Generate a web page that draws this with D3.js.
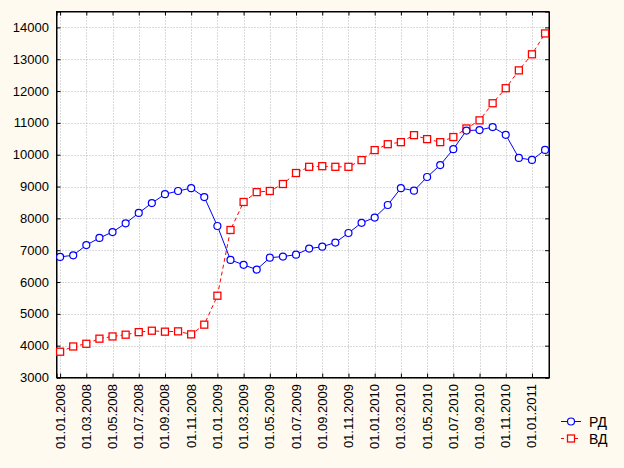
<!DOCTYPE html>
<html><head><meta charset="utf-8">
<script src="https://cdn.jsdelivr.net/npm/d3@7"></script>
<style>
html,body{margin:0;padding:0;background:#FFFAF0;}
svg{display:block;}
text{font-family:"Liberation Sans",Arial,sans-serif;font-size:13px;fill:#000;}
</style></head>
<body>
<svg id="c" width="624" height="468"></svg>
<script>
const months = d3.range(38); // 01.01.2008 .. 01.02.2011
const tickLabels = ["01.01.2008","01.03.2008","01.05.2008","01.07.2008","01.09.2008","01.11.2008",
 "01.01.2009","01.03.2009","01.05.2009","01.07.2009","01.09.2009","01.11.2009",
 "01.01.2010","01.03.2010","01.05.2010","01.07.2010","01.09.2010","01.11.2010","01.01.2011"];
const seriesNames = ["РД","ВД"];
const rd = [6790,6840,7160,7385,7570,7845,8170,8480,8760,8860,8950,8670,7760,6695,6540,6390,6765,6800,6860,7050,
 7110,7240,7540,7860,8025,8420,8950,8870,9300,9675,10175,10760,10775,10870,10625,9900,9835,10150];
const vd = [3810,3975,4060,4220,4290,4345,4425,4470,4440,4450,4355,4660,5570,7635,8515,8825,8860,9080,9425,9620,
 9640,9620,9620,9830,10145,10330,10395,10615,10490,10395,10555,10825,11080,11617,12090,12650,13155,13810];
const yTicks = d3.range(3000,14001,1000);

(function(){
const L=56.5,R=549,T=11.5,B=377.5;
const svg=d3.select("#c");
const x=d3.scaleLinear().domain([-0.275,37.3]).range([L,R]);
const y=d3.scaleLinear().domain([3000,14500]).range([B,T]);
const tickIdx = tickLabels.map((d,i)=>i*2);

svg.append("rect").attr("x",L).attr("y",T).attr("width",R-L).attr("height",B-T).attr("fill","#fff");
const g=svg.append("g");
g.selectAll(".vg").data(tickIdx).join("line").attr("x1",d=>Math.round(x(d))+0.5).attr("x2",d=>Math.round(x(d))+0.5)
 .attr("y1",T).attr("y2",B).attr("stroke","#b4b4b4").attr("stroke-dasharray","1,2");
g.selectAll(".hg").data(yTicks).join("line").attr("y1",d=>Math.round(y(d))+0.5).attr("y2",d=>Math.round(y(d))+0.5)
 .attr("x1",L).attr("x2",R).attr("stroke","#b4b4b4").attr("stroke-dasharray","1,2");

const ax=svg.append("g");
const axB=d3.axisBottom(x).tickValues(tickIdx).tickSize(-4).tickFormat("");
const axT=d3.axisTop(x).tickValues(tickIdx).tickSize(-4).tickFormat("");
const axL=d3.axisLeft(y).tickValues(yTicks).tickSize(-4).tickFormat("");
const axR=d3.axisRight(y).tickValues(yTicks).tickSize(-4).tickFormat("");
ax.append("g").attr("transform",`translate(0,${B})`).call(axB);
ax.append("g").attr("transform",`translate(0,${T})`).call(axT);
ax.append("g").attr("transform",`translate(${L},0)`).call(axL);
ax.append("g").attr("transform",`translate(${R},0)`).call(axR);
ax.selectAll(".domain").attr("stroke","#000").attr("stroke-width",1);
ax.selectAll(".tick line").attr("stroke","#000");
svg.append("rect").attr("x",L).attr("y",T).attr("width",R-L).attr("height",B-T).attr("fill","none").attr("stroke","#000");

svg.selectAll(".yl").data(yTicks).join("text").attr("x",49).attr("y",d=>y(d)+4.5)
 .attr("text-anchor","end").text(d=>d);
svg.selectAll(".xl").data(tickLabels).join("text")
 .attr("transform",(d,i)=>`translate(${x(i*2)+4.5},384) rotate(-90)`)
 .attr("text-anchor","end").text(d=>d);

const line=d3.line().x((d,i)=>x(months[i])).y(d=>y(d));
const pg=svg.append("g");
pg.append("path").datum(vd).attr("d",line).attr("fill","none").attr("stroke","#f00").attr("stroke-dasharray","4,3");
pg.append("path").datum(rd).attr("d",line).attr("fill","none").attr("stroke","#00f");
pg.selectAll(".sq").data(vd).join("rect").attr("x",(d,i)=>x(months[i])-3.5).attr("y",d=>y(d)-3.5)
 .attr("width",7).attr("height",7).attr("fill","#fff").attr("stroke","#f00").attr("stroke-width",1.3);
pg.selectAll(".ci").data(rd).join("circle").attr("cx",(d,i)=>x(months[i])).attr("cy",d=>y(d))
 .attr("r",3.5).attr("fill","#fff").attr("stroke","#00f").attr("stroke-width",1.2);

const lg=svg.append("g");
lg.append("line").attr("x1",561).attr("x2",581).attr("y1",421.5).attr("y2",421.5).attr("stroke","#00f");
lg.append("circle").attr("cx",571).attr("cy",421.5).attr("r",3.5).attr("fill","#fff").attr("stroke","#00f").attr("stroke-width",1.2);
lg.append("text").attr("x",589).attr("y",426.5).style("font-size","14px").text(seriesNames[0]);
lg.append("line").attr("x1",561).attr("x2",581).attr("y1",438.5).attr("y2",438.5).attr("stroke","#f00").attr("stroke-dasharray","3,11");
lg.append("rect").attr("x",567.5).attr("y",435).attr("width",7).attr("height",7).attr("fill","#fff").attr("stroke","#f00").attr("stroke-width",1.3);
lg.append("text").attr("x",589).attr("y",443.5).style("font-size","14px").text(seriesNames[1]);
})();
</script>
</body></html>
